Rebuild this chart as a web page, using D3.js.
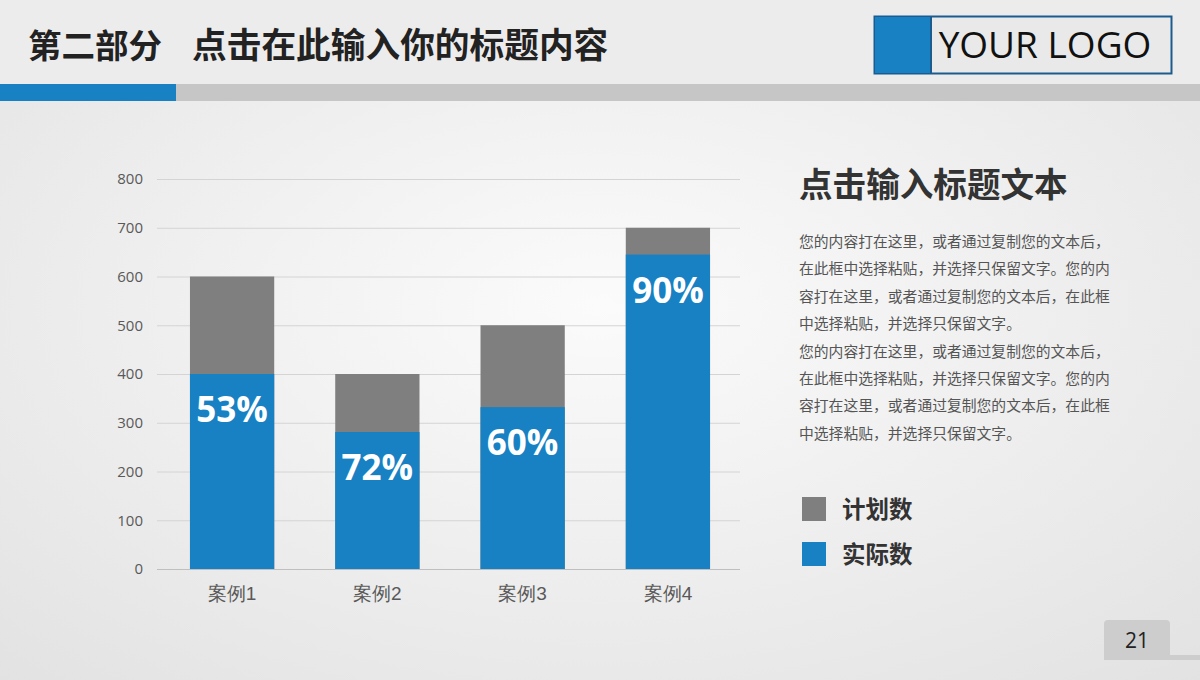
<!DOCTYPE html>
<html>
<head>
  <meta charset="utf-8">
  <script src="https://d3js.org/d3.v7.min.js"></script>
  <style>
    body { margin: 0; }
    svg { display: block; font-family: "Noto Sans CJK SC", "Open Sans", sans-serif; }
  </style>
</head>
<body>
  <svg width="1200" height="680"></svg>
  <script>
    // chart data
    var categories = ["案例1", "案例2", "案例3", "案例4"];
    var planned = [600, 400, 500, 700];
    var actual = [400, 281, 332, 645];
    var pctLabels = ["53%", "72%", "60%", "90%"];
    var yTicks = [0, 100, 200, 300, 400, 500, 600, 700, 800];
    var legendNames = ["计划数", "实际数"];
    var bodyLines = [
      "您的内容打在这里，或者通过复制您的文本后，",
      "在此框中选择粘贴，并选择只保留文字。您的内",
      "容打在这里，或者通过复制您的文本后，在此框",
      "中选择粘贴，并选择只保留文字。",
      "您的内容打在这里，或者通过复制您的文本后，",
      "在此框中选择粘贴，并选择只保留文字。您的内",
      "容打在这里，或者通过复制您的文本后，在此框",
      "中选择粘贴，并选择只保留文字。"
    ];

    var blue = "#1781c3", gray = "#7f7f7f";
    var svg = d3.select("svg");

    // background
    var defs = svg.append("defs");
    var bg = defs.append("radialGradient").attr("id", "bg")
      .attr("cx", "50%").attr("cy", "45%").attr("r", "75%");
    bg.append("stop").attr("offset", "0%").attr("stop-color", "#fbfbfb");
    bg.append("stop").attr("offset", "100%").attr("stop-color", "#e2e2e2");
    svg.append("rect").attr("width", 1200).attr("height", 680).attr("fill", "url(#bg)");

    // header
    svg.append("rect").attr("x", 0).attr("y", 0).attr("width", 1200).attr("height", 84).attr("fill", "#ececec");
    svg.append("text").attr("x", 28).attr("y", 58)
      .attr("font-size", 33.5).attr("font-weight", "bold").attr("fill", "#222")
      .text("第二部分");
    svg.append("text").attr("x", 192).attr("y", 58)
      .attr("font-size", 34.7).attr("font-weight", "bold").attr("fill", "#222")
      .text("点击在此输入你的标题内容");
    svg.append("rect").attr("x", 0).attr("y", 84).attr("width", 1200).attr("height", 17).attr("fill", "#c6c6c6");
    svg.append("rect").attr("x", 0).attr("y", 84).attr("width", 176).attr("height", 17).attr("fill", blue);

    // logo
    svg.append("rect").attr("x", 874.5).attr("y", 16.5).attr("width", 297).attr("height", 57)
      .attr("fill", "#e9e9e9").attr("stroke", "#1c5b8e").attr("stroke-width", 2);
    svg.append("rect").attr("x", 875).attr("y", 17).attr("width", 56).attr("height", 56).attr("fill", blue);
    svg.append("line").attr("x1", 931).attr("x2", 931).attr("y1", 17).attr("y2", 73)
      .attr("stroke", "#1c5b8e").attr("stroke-width", 2);
    svg.append("text").attr("x", 1045).attr("y", 58).attr("text-anchor", "middle")
      .attr("font-family", "'Open Sans', sans-serif").attr("font-size", 37).attr("fill", "#111")
      .text("YOUR LOGO");

    // chart
    var x = d3.scaleBand().domain(categories).range([158, 742]).paddingInner(0.42).paddingOuter(0.22);
    var y = d3.scaleLinear().domain([0, 800]).range([569, 179]);

    var grid = svg.append("g");
    grid.selectAll("line").data(yTicks).enter().append("line")
      .attr("x1", 157).attr("x2", 740)
      .attr("y1", function(d) { return y(d) + 0.5; })
      .attr("y2", function(d) { return y(d) + 0.5; })
      .attr("stroke", function(d) { return d === 0 ? "#bfbfbf" : "#d4d4d4"; })
      .attr("stroke-width", 1);

    var yAxis = svg.append("g").attr("transform", "translate(157,0)")
      .call(d3.axisLeft(y).tickValues(yTicks).tickSize(0).tickPadding(14));
    yAxis.select(".domain").remove();
    yAxis.selectAll("text").attr("font-family", "'Open Sans', sans-serif").attr("font-size", 15).attr("fill", "#595959");

    var xAxis = svg.append("g").attr("transform", "translate(0,569)")
      .call(d3.axisBottom(x).tickSize(0).tickPadding(18));
    xAxis.select(".domain").remove();
    xAxis.selectAll("text").attr("font-size", 19).attr("fill", "#595959");

    svg.append("g").selectAll("rect").data(planned).enter().append("rect")
      .attr("x", function(d, i) { return x(categories[i]); })
      .attr("width", x.bandwidth())
      .attr("y", function(d) { return y(d); })
      .attr("height", function(d) { return y(0) - y(d); })
      .attr("fill", gray);

    svg.append("g").selectAll("rect").data(actual).enter().append("rect")
      .attr("x", function(d, i) { return x(categories[i]); })
      .attr("width", x.bandwidth())
      .attr("y", function(d) { return y(d); })
      .attr("height", function(d) { return y(0) - y(d); })
      .attr("fill", blue);

    svg.append("g").selectAll("text").data(actual).enter().append("text")
      .attr("x", function(d, i) { return x(categories[i]) + x.bandwidth() / 2; })
      .attr("y", function(d) { return y(d) + 48; })
      .attr("text-anchor", "middle")
      .attr("font-family", "'Open Sans', sans-serif").attr("font-weight", "bold")
      .attr("font-size", 35).attr("fill", "#fff")
      .text(function(d, i) { return pctLabels[i]; });

    // right panel
    svg.append("text").attr("x", 799).attr("y", 197)
      .attr("font-size", 33.6).attr("font-weight", "bold").attr("fill", "#333")
      .text("点击输入标题文本");
    svg.append("g").selectAll("text").data(bodyLines).enter().append("text")
      .attr("x", 799).attr("y", function(d, i) { return 247 + i * 27.4; })
      .attr("font-size", 14.8).attr("fill", "#555")
      .text(function(d) { return d; });

    var legend = svg.append("g").selectAll("g").data(legendNames).enter().append("g")
      .attr("transform", function(d, i) { return "translate(802," + (497 + i * 45) + ")"; });
    legend.append("rect").attr("width", 24).attr("height", 24)
      .attr("fill", function(d, i) { return i === 0 ? gray : blue; });
    legend.append("text").attr("x", 40).attr("y", 21)
      .attr("font-size", 23.5).attr("font-weight", "bold").attr("fill", "#333")
      .text(function(d) { return d; });

    // page number
    svg.append("rect").attr("x", 1104).attr("y", 655).attr("width", 96).attr("height", 5).attr("fill", "#cdcdcd");
    svg.append("path")
      .attr("d", "M1104,660 V624 Q1104,620 1108,620 H1166 Q1170,620 1170,624 V660 Z")
      .attr("fill", "#cdcdcd");
    svg.append("text").attr("x", 1137).attr("y", 648).attr("text-anchor", "middle")
      .attr("font-family", "'Open Sans', sans-serif").attr("font-size", 21).attr("fill", "#222")
      .text("21");
  </script>
</body>
</html>
